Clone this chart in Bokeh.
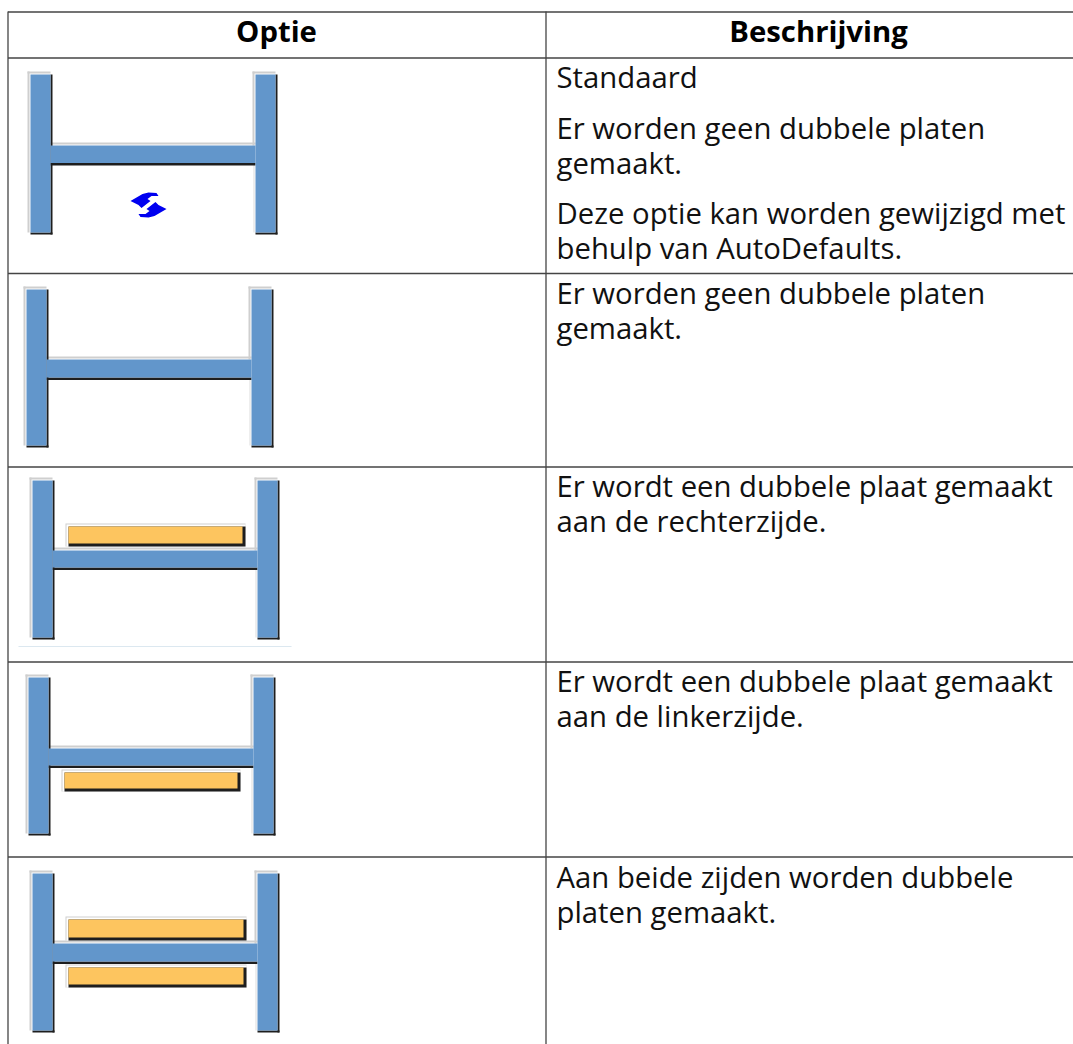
from bokeh.plotting import figure
from bokeh.embed import file_html
from bokeh.resources import INLINE
from bokeh.core.properties import value

# ---- table content
headers = ["Optie", "Beschrijving"]
header_baseline = 41.3
descriptions = [
    [("Standaard", 86.7), ("Er worden geen dubbele platen", 137.7), ("gemaakt.", 172.7),
     ("Deze optie kan worden gewijzigd met", 222.7), ("behulp van AutoDefaults.", 257.7)],
    [("Er worden geen dubbele platen", 302.8), ("gemaakt.", 337.8)],
    [("Er wordt een dubbele plaat gemaakt", 496.2), ("aan de rechterzijde.", 531.2)],
    [("Er wordt een dubbele plaat gemaakt", 691.2), ("aan de linkerzijde.", 726.2)],
    [("Aan beide zijden worden dubbele", 886.7), ("platen gemaakt.", 921.7)],
]
row_lines = [11.5, 57.5, 273, 466.5, 661.5, 856.5]
col_lines = [7.5, 545.5]
col_centers = [276, 818]
text_left = 556

# ---- option pictures: left flange x, right flange x, top, bottom, web top, web bottom
profile_left = [30, 26, 32, 28, 32]
profile_right = [255, 251, 257, 253, 257]
profile_top = [74, 289, 480, 677, 873]
profile_bottom = [232, 445, 637, 833, 1030]
web_top = [145, 359, 550, 748, 943]
web_bottom = [162.5, 377, 567, 765, 961]
# doubler plates: (x0, x1, y0, y1)
plates = [
    (68, 242, 526, 543),
    (64, 237, 772, 788),
    (68, 243, 919, 937),
    (68, 243, 967, 984),
]
flange_w = 20
icon_center = (148, 204.5)
icon_a_x = [-18, -6, 0, 8, 10, 3, -1, 2, -7, -10]
icon_a_y = [-4, -11, -12.5, -12, -9, -9, -6, -4, 3, 0]

BLUE, GOLD, DARK, GREY = "#6296cb", "#fdc55f", "#1e1e1e", "#cfcfcf"
LINE = "#444444"

W, H = 1073, 1044
p = figure(width=W, height=H, x_range=(0, W), y_range=(H, 0),
           toolbar_location=None, output_backend="svg", min_border=0)
p.axis.visible = False
p.grid.visible = False
p.outline_line_color = None


def rect(x0, x1, y0, y1, color):
    p.quad(left=[x0], right=[x1], top=[y0], bottom=[y1], fill_color=color, line_color=None)


for i in range(5):
    lx, rx = profile_left[i], profile_right[i]
    t, b = profile_top[i], profile_bottom[i]
    wt, wb = web_top[i], web_bottom[i]
    # light outline (top-left)
    rect(lx - 3, lx + flange_w, t - 3, t - 1, GREY)
    rect(lx - 3, lx - 1, t - 3, b, GREY)
    rect(rx - 3, rx + flange_w, t - 3, t - 1, GREY)
    rect(rx - 3, rx - 1, t - 3, wt, GREY)
    rect(rx - 2, rx - 1, wb + 2, b, "#dedede")
    rect(lx + flange_w, rx, wt - 3, wt - 1, GREY)
    # dark outline (bottom-right)
    rect(lx + flange_w, lx + flange_w + 2, t, b + 2, DARK)
    rect(lx, lx + flange_w + 2, b, b + 2, DARK)
    rect(rx + flange_w, rx + flange_w + 2, t, b + 2, DARK)
    rect(rx, rx + flange_w + 2, b, b + 2, DARK)
    rect(lx + flange_w, rx, wb, wb + 2.5, DARK)
    # steel
    rect(lx, lx + flange_w, t, b, BLUE)
    rect(rx, rx + flange_w, t, b, BLUE)
    rect(lx + flange_w, rx, wt, wb, BLUE)

for x0, x1, y0, y1 in plates:
    rect(x0 - 3, x1 + 3, y0 - 3, y1 + 3, GREY)
    rect(x0 - 2, x1 + 3, y0 - 2, y1 + 3, "#ffffff")
    rect(x0, x1 + 3, y0, y1 + 3, DARK)
    rect(x0, x1, y0, y1, GOLD)

rect(18, 291, 645.5, 646.5, "#dce8f0")

# refresh icon
cx, cy = icon_center
p.patch([cx + v for v in icon_a_x], [cy + v for v in icon_a_y], color="#0000f0", line_color=None)
p.patch([cx - v for v in icon_a_x], [cy - v for v in icon_a_y], color="#0000f0", line_color=None)

# table rules
p.segment(x0=[col_lines[0]] * len(row_lines), x1=[W] * len(row_lines), y0=row_lines, y1=row_lines,
          line_color=LINE, line_width=1.3)
p.segment(x0=col_lines, x1=col_lines, y0=[11] * 2, y1=[H] * 2, line_color=LINE, line_width=1.3)

# texts
TEXT_SHIFT = -10.5
p.text(x=col_centers, y=[header_baseline] * 2, text=headers, text_font=value("Open Sans"),
       text_font_style="bold", text_font_size="29.3px", text_align="center", y_offset=TEXT_SHIFT,
       text_baseline="alphabetic", text_color="#000000")
lines = [l for row in descriptions for l in row]
p.text(x=[text_left] * len(lines), y=[l[1] for l in lines], text=[l[0] for l in lines],
       text_font=value("Open Sans"), text_font_size="29.3px", text_align="left", y_offset=TEXT_SHIFT,
       text_baseline="alphabetic", text_color="#111111")

open("out.html", "w").write(file_html(p, INLINE))
